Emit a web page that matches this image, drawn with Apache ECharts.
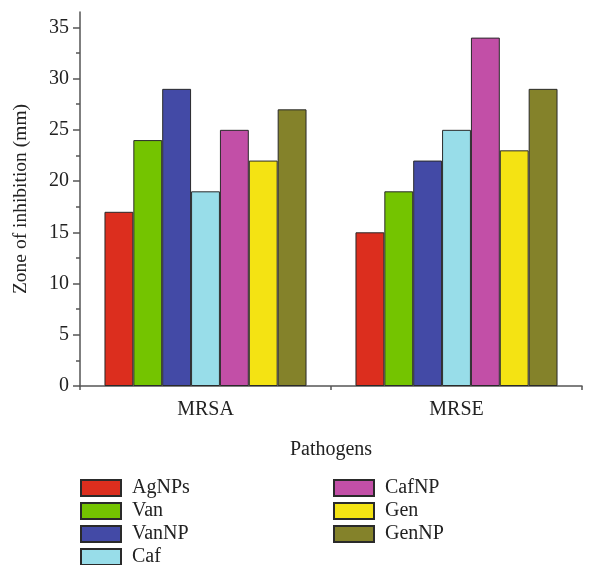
<!DOCTYPE html>
<html>
<head>
<meta charset="utf-8">
<script src="https://cdn.jsdelivr.net/npm/echarts@6/dist/echarts.min.js"></script>
<style>html,body{margin:0;padding:0;background:#fff}#c{width:604px;height:565px}</style>
</head>
<body>
<div id="c"></div>
<script>
const categories = ['MRSA', 'MRSE'];
const seriesNames = ['AgNPs', 'Van', 'VanNP', 'Caf', 'CafNP', 'Gen', 'GenNP'];
const AgNPs = [17, 15];
const Van = [24, 19];
const VanNP = [29, 22];
const Caf = [19, 25];
const CafNP = [25, 34];
const Gen = [22, 23];
const GenNP = [27, 29];
const yTicks = [0, 5, 10, 15, 20, 25, 30, 35];
const colors = ['#DC2E1E', '#74C400', '#434AA6', '#98DDE9', '#C24FA7', '#F4E313', '#84822A'];
const values = [AgNPs, Van, VanNP, Caf, CafNP, Gen, GenNP];

const font = 'Liberation Serif';
const chart = echarts.init(document.getElementById('c'), null, {renderer: 'canvas'});
const axisCol = '#555';
const legendText = {fontFamily: font, fontSize: 20, color: '#222', lineHeight: 16, padding: [0, 0, 0, 6]};
const legendLeft = [80, 80, 80, 80, 333, 333, 333];
const legendTop = [478, 501, 524, 547, 478, 501, 524];
chart.setOption({
  animation: false,
  grid: {left: 80, right: 22, top: 12, bottom: 179, containLabel: false},
  legend: seriesNames.map((n, i) => ({
    data: [n], orient: 'vertical', left: legendLeft[i], top: legendTop[i], padding: 0,
    itemWidth: 40, itemHeight: 16, textStyle: legendText, icon: 'rect'
  })),
  xAxis: [
    {type: 'category', data: categories,
     name: 'Pathogens', nameLocation: 'middle', nameGap: 54,
     nameTextStyle: {fontFamily: font, fontSize: 20, color: '#222'},
     axisLine: {lineStyle: {color: axisCol, width: 1.5}},
     axisTick: {alignWithLabel: true, length: 6, lineStyle: {color: axisCol, width: 1.5}},
     axisLabel: {fontFamily: font, fontSize: 20, color: '#222', margin: 14}},
    {type: 'category', data: categories, position: 'bottom', show: true,
     axisLine: {show: false},
     axisTick: {show: true, length: 4, interval: 0, lineStyle: {color: axisCol, width: 1.5}},
     axisLabel: {show: false}}
  ],
  yAxis: {type: 'value', min: 0, max: 36.5, interval: 5,
    name: 'Zone of inhibition (mm)', nameLocation: 'middle', nameGap: 49,
    nameTextStyle: {fontFamily: font, fontSize: 19.5, color: '#222'},
    axisLine: {show: true, lineStyle: {color: axisCol, width: 1.5}},
    axisTick: {show: true, length: 7, customValues: yTicks, lineStyle: {color: axisCol, width: 1.5}},
    minorTick: {show: true, splitNumber: 2, length: 4, lineStyle: {color: axisCol, width: 1.5}},
    axisLabel: {fontFamily: font, fontSize: 20, color: '#222', margin: 11, customValues: yTicks},
    splitLine: {show: false}},
  series: seriesNames.map((n, i) => ({
    name: n, type: 'bar', data: values[i], xAxisIndex: 0,
    barGap: '0%', barCategoryGap: '19.5%',
    itemStyle: {color: colors[i], borderColor: '#2a2a2a', borderWidth: 1}
  }))
});
</script>
</body>
</html>
